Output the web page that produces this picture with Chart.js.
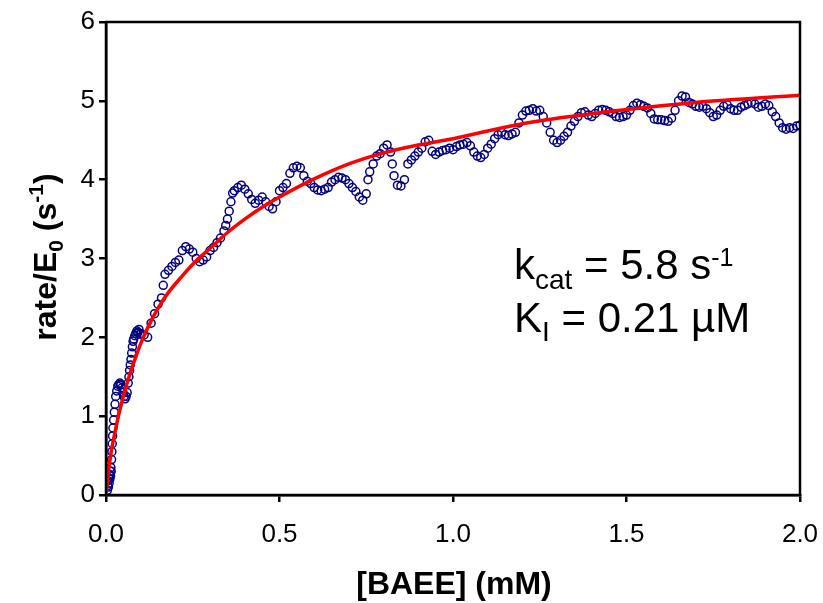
<!DOCTYPE html>
<html>
<head>
<meta charset="utf-8">
<script src="https://cdn.jsdelivr.net/npm/chart.js@4.4.1/dist/chart.umd.min.js"></script>
<style>
  html, body { margin: 0; padding: 0; background: #fff; }
  #wrap { width: 823px; height: 603px; }
</style>
</head>
<body>
<div id="wrap"><canvas id="rateChart" width="823" height="603"></canvas></div>
<script>
var rateX = [0.004,0.005,0.006,0.007,0.008,0.009,0.010,0.011,0.012,0.013,0.014,0.015,0.016,0.017,0.018,0.019,0.020,0.022,0.024,0.026,0.028,0.031,0.034,0.037,0.040,0.043,0.046,0.049,0.052,0.055,0.058,0.061,0.064,0.066,0.068,0.070,0.072,0.074,0.076,0.078,0.080,0.083,0.086,0.089,0.092,0.095,0.098,
  0.10,0.11,0.12,0.13,0.14,0.15,0.16,0.165,0.17,0.18,0.19,0.20,0.21,0.22,0.23,0.24,0.25,0.26,0.27,0.28,0.29,0.30,
  0.31,0.32,0.33,0.34,0.345,0.35,0.355,0.36,0.365,0.37,0.38,0.39,0.40,0.41,0.42,0.43,0.44,0.45,0.46,0.47,0.48,0.49,0.50,
  0.51,0.52,0.53,0.54,0.55,0.56,0.57,0.58,0.59,0.60,0.61,0.62,0.63,0.64,0.65,0.66,0.67,0.68,0.69,0.70,
  0.71,0.72,0.73,0.74,0.75,0.755,0.76,0.77,0.78,0.79,0.80,0.81,0.82,0.825,0.83,0.84,0.85,0.86,0.87,0.88,0.89,0.90,
  0.91,0.92,0.93,0.94,0.95,0.96,0.97,0.98,0.99,1.00,1.01,1.02,1.03,1.04,1.05,1.06,1.07,1.08,1.09,1.10,
  1.11,1.12,1.13,1.14,1.15,1.16,1.17,1.18,1.19,1.20,1.21,1.22,1.23,1.24,1.25,1.26,1.27,1.28,1.29,1.30,
  1.31,1.32,1.33,1.34,1.35,1.36,1.37,1.38,1.39,1.40,1.41,1.42,1.43,1.44,1.45,1.46,1.47,1.48,1.49,1.50,
  1.51,1.52,1.53,1.54,1.55,1.56,1.57,1.58,1.59,1.60,1.61,1.62,1.63,1.64,1.65,1.66,1.67,1.68,1.69,1.70,
  1.71,1.72,1.73,1.74,1.75,1.76,1.77,1.78,1.79,1.80,1.81,1.82,1.83,1.84,1.85,1.86,1.87,1.88,1.89,1.90,
  1.91,1.92,1.93,1.94,1.95,1.96,1.97,1.98,1.99,2.00];
var rateY = [0.06,0.12,0.18,0.10,0.22,0.15,0.26,0.20,0.30,0.24,0.35,0.30,0.45,0.55,0.65,0.75,0.85,0.95,1.05,1.15,1.25,1.32,1.38,1.40,1.42,1.40,1.36,1.30,1.25,1.22,1.25,1.30,1.42,1.50,1.58,1.65,1.72,1.80,1.88,1.95,1.98,2.02,2.05,2.08,2.06,2.10,2.04,
  2.05,2.03,2.00,2.18,2.30,2.42,2.50,2.66,2.80,2.85,2.90,2.95,2.98,3.10,3.15,3.12,3.08,3.00,2.96,2.98,3.02,3.10,
  3.14,3.20,3.26,3.35,3.42,3.50,3.60,3.72,3.83,3.86,3.90,3.93,3.88,3.82,3.75,3.70,3.74,3.78,3.72,3.66,3.63,3.72,3.86,
  3.90,3.95,4.08,4.15,4.17,4.15,4.05,3.98,3.95,3.90,3.87,3.86,3.88,3.90,3.97,4.00,4.03,4.02,4.00,3.95,
  3.90,3.85,3.78,3.74,3.82,4.00,4.10,4.20,4.30,4.33,4.40,4.44,4.35,4.20,4.05,3.93,3.92,4.00,4.20,4.25,4.30,4.35,
  4.40,4.48,4.50,4.36,4.32,4.35,4.37,4.38,4.40,4.38,4.42,4.44,4.45,4.47,4.43,4.35,4.30,4.28,4.32,4.40,
  4.45,4.52,4.57,4.60,4.57,4.56,4.58,4.60,4.72,4.82,4.87,4.88,4.90,4.87,4.88,4.80,4.72,4.60,4.50,4.47,
  4.50,4.55,4.60,4.68,4.74,4.80,4.85,4.86,4.82,4.80,4.84,4.88,4.89,4.88,4.86,4.84,4.80,4.79,4.80,4.82,
  4.88,4.94,4.97,4.95,4.93,4.91,4.84,4.77,4.76,4.76,4.75,4.74,4.78,4.88,5.00,5.06,5.05,4.98,4.96,4.93,
  4.92,4.93,4.90,4.85,4.80,4.82,4.88,4.93,4.95,4.90,4.88,4.88,4.92,4.94,4.96,4.98,4.96,4.92,4.93,4.96,
  4.94,4.86,4.80,4.72,4.66,4.64,4.66,4.65,4.68,4.69];

// fitted curve, read at a set of x positions
var fitX = [0, 0.005, 0.015, 0.026, 0.04, 0.055, 0.07, 0.084, 0.10, 0.12, 0.15, 0.18, 0.22, 0.26, 0.30, 0.35, 0.40, 0.45, 0.50, 0.60, 0.70, 0.80, 0.90, 1.00, 1.20, 1.50, 1.70, 2.00];
var fitY = [0, 0.23, 0.55, 0.80, 1.08, 1.33, 1.55, 1.73, 1.92, 2.12, 2.37, 2.57, 2.78, 2.97, 3.13, 3.33, 3.50, 3.65, 3.78, 4.01, 4.20, 4.34, 4.44, 4.52, 4.71, 4.89, 4.98, 5.07];

var xTicks = [0, 0.5, 1.0, 1.5, 2.0];
var yTicks = [0, 1, 2, 3, 4, 5, 6];

var points = rateX.map(function (x, i) { return { x: x, y: rateY[i] }; });
var fitLine = fitX.map(function (x, i) { return { x: x, y: fitY[i] }; });

var FONT = '"Liberation Sans", Arial, Helvetica, sans-serif';

// draws a string made of normal / sub / superscript pieces
function drawRuns(ctx, runs, x, y) {
    var cx = x;
    runs.forEach(function (r) {
        ctx.font = (r.bold ? 'bold ' : '') + r.size + 'px ' + FONT;
        ctx.fillText(r.t, cx, y + (r.dy || 0));
        cx += ctx.measureText(r.t).width;
    });
    return cx - x;
}
function runsWidth(ctx, runs) {
    var w = 0;
    runs.forEach(function (r) {
        ctx.font = (r.bold ? 'bold ' : '') + r.size + 'px ' + FONT;
        w += ctx.measureText(r.t).width;
    });
    return w;
}

var textPlugin = {
    id: 'extraText',
    afterDraw: function (chart) {
        var ctx = chart.ctx;
        var area = chart.chartArea;
        ctx.save();
        ctx.fillStyle = '#000';
        ctx.textBaseline = 'alphabetic';
        ctx.textAlign = 'left';

        // frame
        ctx.strokeStyle = '#000';
        ctx.lineWidth = 2.5;
        ctx.strokeRect(area.left, area.top, area.right - area.left, area.bottom - area.top);

        // x title
        var xt = [{ t: '[BAEE] (mM)', size: 32, bold: true }];
        var w = runsWidth(ctx, xt);
        drawRuns(ctx, xt, 454 - w / 2, 594);

        // y title, rotated
        var yt = [
            { t: 'rate/E', size: 32, bold: true },
            { t: '0', size: 21, bold: true, dy: 7 },
            { t: ' (s', size: 32, bold: true },
            { t: '-1', size: 21, bold: true, dy: -13 },
            { t: ')', size: 32, bold: true }
        ];
        w = runsWidth(ctx, yt);
        ctx.save();
        ctx.translate(56, 257);
        ctx.rotate(-Math.PI / 2);
        drawRuns(ctx, yt, -w / 2, 0);
        ctx.restore();

        // fit parameters
        drawRuns(ctx, [
            { t: 'k', size: 42 },
            { t: 'cat', size: 28, dy: 10 },
            { t: ' = 5.8 s', size: 42 },
            { t: '-1', size: 25, dy: -13 }
        ], 514, 279);
        drawRuns(ctx, [
            { t: 'K', size: 42 },
            { t: 'I', size: 28, dy: 9 },
            { t: ' = 0.21 \u00b5M', size: 42 }
        ], 514, 332);
        ctx.restore();
    }
};

var ctx = document.getElementById('rateChart').getContext('2d');

var rateChart = new Chart(ctx, {
    type: 'scatter',
    data: {
        datasets: [{
            label: 'fit',
            data: fitLine,
            showLine: true,
            borderColor: '#ff0000',
            borderWidth: 3.5,
            pointRadius: 0,
            cubicInterpolationMode: 'monotone',
            fill: false
        }, {
            label: 'rate/E0',
            data: points,
            pointRadius: 4,
            pointBorderWidth: 1.5,
            pointBorderColor: '#000080',
            pointBackgroundColor: 'rgba(0,0,0,0)',
            showLine: false
        }]
    },
    options: {
        responsive: false,
        animation: false,
        layout: { padding: { top: 22, right: 23, left: 0, bottom: 0 } },
        plugins: { legend: { display: false }, tooltip: { enabled: false } },
        scales: {
            x: {
                type: 'linear',
                min: 0,
                max: 2,
                afterBuildTicks: function (scale) {
                    scale.ticks = xTicks.map(function (v) { return { value: v }; });
                },
                afterFit: function (scale) {
                    scale.height = 108;
                    scale.paddingLeft = 0;
                    scale.paddingRight = 0;
                },
                ticks: {
                    color: '#000',
                    font: { family: FONT, size: 26 },
                    padding: 17,
                    maxRotation: 0,
                    callback: function (v) { return v.toFixed(1); }
                },
                grid: { drawOnChartArea: false, drawTicks: true, tickLength: 7, color: '#000', lineWidth: 2.5 },
                border: { display: true, color: '#000', width: 2.5 }
            },
            y: {
                type: 'linear',
                min: 0,
                max: 6,
                afterBuildTicks: function (scale) {
                    scale.ticks = yTicks.map(function (v) { return { value: v }; });
                },
                afterFit: function (scale) {
                    scale.width = 106;
                    scale.paddingTop = 0;
                    scale.paddingBottom = 0;
                },
                ticks: {
                    color: '#000',
                    font: { family: FONT, size: 26 },
                    padding: 4
                },
                grid: { drawOnChartArea: false, drawTicks: true, tickLength: 7, color: '#000', lineWidth: 2.5 },
                border: { display: true, color: '#000', width: 2.5 }
            }
        }
    },
    plugins: [textPlugin]
});
</script>
</body>
</html>
